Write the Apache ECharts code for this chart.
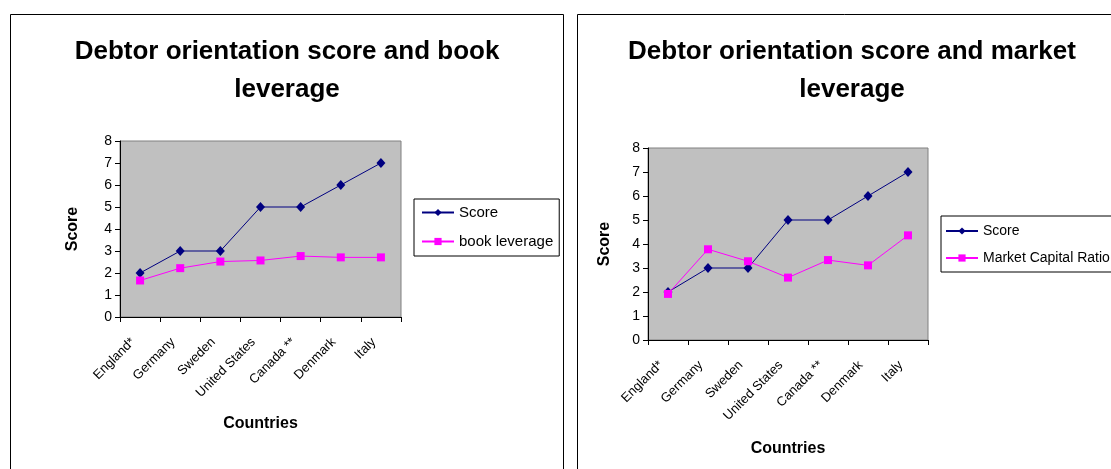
<!DOCTYPE html>
<html>
<head>
<meta charset="utf-8">
<script src="https://cdn.jsdelivr.net/npm/echarts@6/dist/echarts.min.js"></script>
<style>
html,body{margin:0;padding:0;background:#fff;}
#c{width:1111px;height:469px;}
</style>
</head>
<body>
<div id="c"></div>
<script>
const countries = ['England*', 'Germany', 'Sweden', 'United States', 'Canada **', 'Denmark', 'Italy'];
const scoreValues = [2, 3, 3, 5, 5, 6, 7];
const bookLeverage = [1.66, 2.22, 2.52, 2.57, 2.77, 2.71, 2.71];
const marketCapitalRatio = [1.92, 3.78, 3.28, 2.60, 3.33, 3.11, 4.36];
const yTicks = [0, 1, 2, 3, 4, 5, 6, 7, 8];

const FONT = "'Liberation Sans', Arial, sans-serif";
const chart = echarts.init(document.getElementById('c'), null, {renderer: 'canvas'});

function xAxisCfg(gridIndex, nameGap) {
  return {
    type: 'category', gridIndex, data: countries, boundaryGap: true,
    name: 'Countries', nameLocation: 'middle', nameGap,
    nameTextStyle: {fontFamily: FONT, fontWeight: 'bold', fontSize: 16, color: '#000'},
    axisLine: {show: true, lineStyle: {color: '#000', width: 1}},
    axisTick: {show: true, length: 5, inside: false, alignWithLabel: false, lineStyle: {color: '#000'}},
    axisLabel: {interval: 0, rotate: 45, margin: 16, padding: [0, 10, 0, 0], fontFamily: FONT, fontSize: 13, color: '#000'},
    splitLine: {show: false}
  };
}
function yAxisCfg(gridIndex, nameGap) {
  return {
    type: 'value', gridIndex, min: yTicks[0], max: yTicks[yTicks.length - 1], interval: 1,
    name: 'Score', nameLocation: 'middle', nameGap,
    nameTextStyle: {fontFamily: FONT, fontWeight: 'bold', fontSize: 16, color: '#000'},
    axisLine: {show: true, lineStyle: {color: '#000', width: 1}},
    axisTick: {show: true, length: 5, lineStyle: {color: '#000'}},
    axisLabel: {margin: 8, fontFamily: FONT, fontSize: 14, color: '#000'},
    splitLine: {show: false}
  };
}
function scoreSeries(idx) {
  return {
    name: 'Score', type: 'line', xAxisIndex: idx, yAxisIndex: idx, data: scoreValues,
    symbol: 'diamond', symbolSize: [9, 10], showAllSymbol: true,
    lineStyle: {color: '#000080', width: 1}, itemStyle: {color: '#000080'},
    emphasis: {disabled: true}, animation: false
  };
}
function pinkSeries(idx, name, data) {
  return {
    name, type: 'line', xAxisIndex: idx, yAxisIndex: idx, data,
    symbol: 'rect', symbolSize: 8, showAllSymbol: true,
    lineStyle: {color: '#FF00FF', width: 1}, itemStyle: {color: '#FF00FF'},
    emphasis: {disabled: true}, animation: false
  };
}
function legendCfg(left, top, names, fontSize, gap, padding) {
  return {
    orient: 'vertical', left, top, data: names,
    borderColor: '#000', borderWidth: 1, padding,
    itemGap: gap, itemWidth: 32, itemHeight: 9,
    textStyle: {fontFamily: FONT, fontSize, color: '#000'},
    selectedMode: false
  };
}

chart.setOption({
  animation: false,
  backgroundColor: '#fff',
  title: [
    {text: 'Debtor orientation score and book\nleverage', left: 287, top: 33, textAlign: 'center', padding: 0,
     textStyle: {fontFamily: FONT, fontWeight: 'bold', fontSize: 26, lineHeight: 38, color: '#000'}},
    {text: 'Debtor orientation score and market\nleverage', left: 852, top: 33, textAlign: 'center', padding: 0,
     textStyle: {fontFamily: FONT, fontWeight: 'bold', fontSize: 26, lineHeight: 38, color: '#000'}}
  ],
  legend: [
    legendCfg(414, 199, ['Score', 'book leverage'], 15, 14, [6, 6, 7, 7]),
    legendCfg(941, 216, ['Score', 'Market Capital Ratio'], 14, 13, [8, 6, 7, 4])
  ],
  grid: [
    {left: 120, top: 141, width: 281, height: 176, show: true, backgroundColor: '#C0C0C0', borderColor: '#808080', borderWidth: 1},
    {left: 648, top: 148, width: 280, height: 192, show: true, backgroundColor: '#C0C0C0', borderColor: '#808080', borderWidth: 1}
  ],
  xAxis: [xAxisCfg(0, 99), xAxisCfg(1, 101)],
  yAxis: [yAxisCfg(0, 39), yAxisCfg(1, 35)],
  series: [
    scoreSeries(0),
    pinkSeries(0, 'book leverage', bookLeverage),
    scoreSeries(1),
    pinkSeries(1, 'Market Capital Ratio', marketCapitalRatio)
  ],
  graphic: [
    {type: 'rect', shape: {x: 10.5, y: 14.5, width: 553, height: 520}, style: {fill: null, stroke: '#000', lineWidth: 1}, silent: true},
    {type: 'rect', shape: {x: 577.5, y: 14.5, width: 600, height: 520}, style: {fill: null, stroke: '#000', lineWidth: 1}, silent: true}
  ]
});
</script>
</body>
</html>
